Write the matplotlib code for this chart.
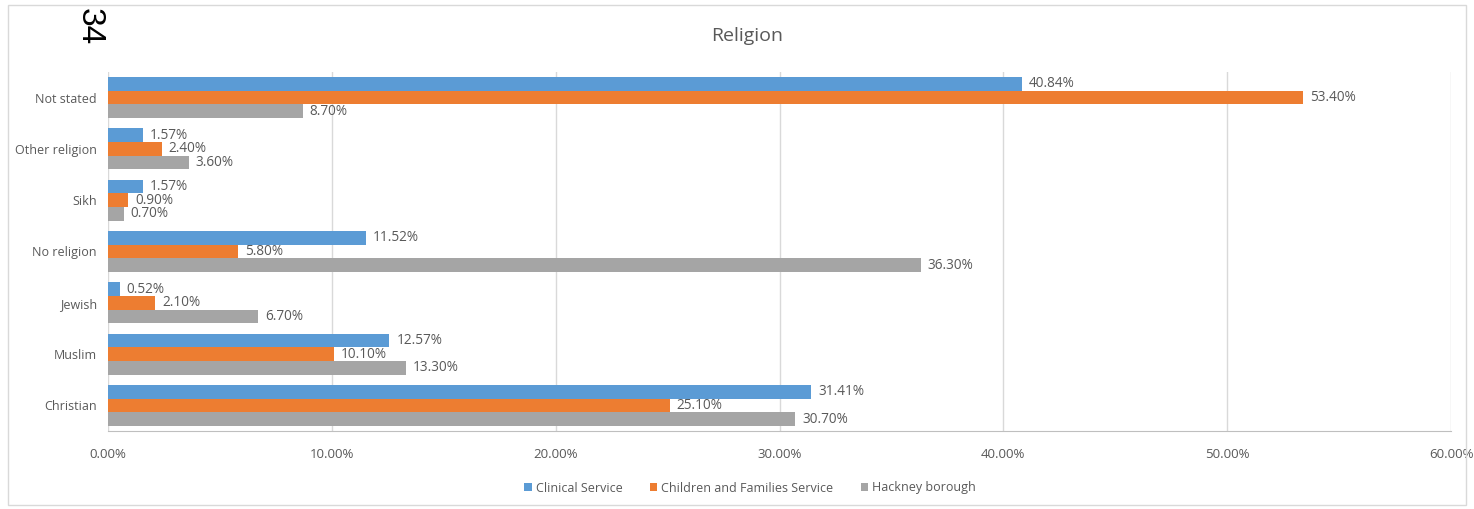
import matplotlib.pyplot as plt
from matplotlib.patches import Rectangle
import numpy as np

# donnees (en %)
categories = ["Christian", "Muslim", "Jewish", "No religion", "Sikh", "Other religion", "Not stated"]
clinical = [31.41, 12.57, 0.52, 11.52, 1.57, 1.57, 40.84]
children = [25.10, 10.10, 2.10, 5.80, 0.90, 2.40, 53.40]
hackney = [30.70, 13.30, 6.70, 36.30, 0.70, 3.60, 8.70]
series_names = ["Clinical Service", "Children and Families Service", "Hackney borough"]
xticks = [0, 10, 20, 30, 40, 50, 60]

couleurs = ["#5B9BD5", "#ED7D31", "#A5A5A5"]
texte = "#595959"
plt.rcParams['font.family'] = ['Open Sans', 'DejaVu Sans']

fig = plt.figure(figsize=(14.74, 5.09), dpi=100)
ax = fig.add_axes([108 / 1474, 1 - 431 / 509, (1451 - 108) / 1474, (431 - 72) / 509])

# cadre autour du graphique
fig.patches.append(Rectangle((8 / 1474, 4 / 509), 1458 / 1474, 500 / 509,
                             transform=fig.transFigure, fill=False,
                             edgecolor="#d9d9d9", linewidth=1))

y = np.arange(len(categories))
h = 0.267
for i, (vals, nom) in enumerate(zip([clinical, children, hackney], series_names)):
    pos = y + (1 - i) * h
    bars = ax.barh(pos, vals, height=h, color=couleurs[i], label=nom, zorder=3)
    for b, v in zip(bars, vals):
        ax.annotate(f"{v:.2f}%", (b.get_width(), b.get_y() + b.get_height() / 2),
                    xytext=(5, 0), textcoords="offset points", va="center", ha="left",
                    fontsize=9.8, color=texte, zorder=4)

ax.set_xlim(0, 60)
ax.set_ylim(-0.5, len(categories) - 0.5)
ax.set_xticks(xticks)
ax.set_xticklabels([f"{t:.2f}%" for t in xticks])
ax.set_yticks(y)
ax.set_yticklabels(categories)
ax.tick_params(length=0, labelsize=9.5, colors=texte)
ax.tick_params(axis='y', labelsize=9, pad=8)
ax.tick_params(axis='x', pad=12)
ax.grid(axis='x', color="#d9d9d9", linewidth=1, zorder=0)
for s in ["top", "right", "left"]:
    ax.spines[s].set_visible(False)
ax.spines["bottom"].set_color("#bfbfbf")

fig.text(747 / 1474, 1 - 36 / 509, "Religion", ha="center", va="center", fontsize=14, color=texte)
fig.text(89 / 1474, 1 - 27 / 509, "34", rotation=-90, ha="center", va="center",
         fontsize=24, color="black", family="Liberation Sans")

leg = fig.legend(loc="center", bbox_to_anchor=(750 / 1474, 1 - 488 / 509), ncol=3,
                 frameon=False, fontsize=9, handlelength=0.6, handleheight=0.6,
                 columnspacing=2.2, handletextpad=0.3)
for t in leg.get_texts():
    t.set_color(texte)

fig.savefig("out.png", dpi=100)
